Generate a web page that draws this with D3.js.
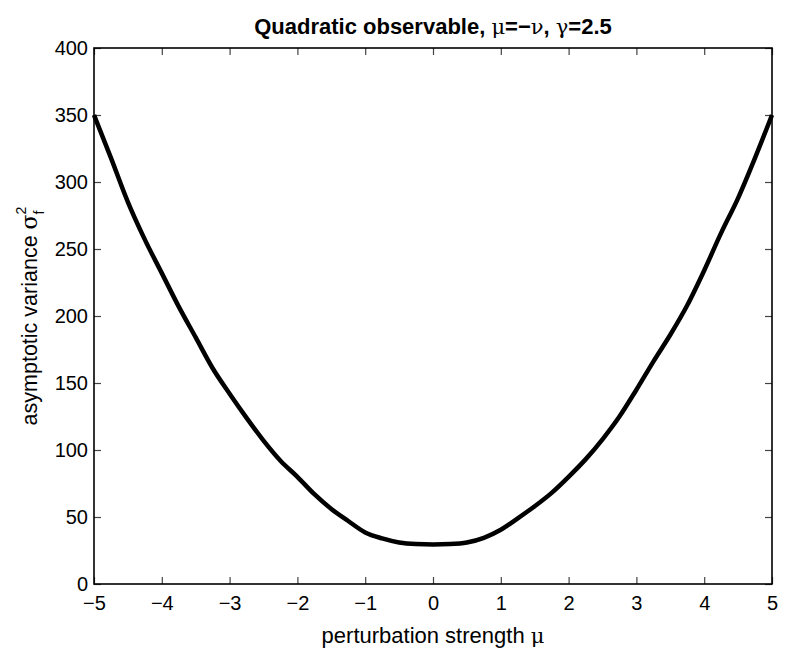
<!DOCTYPE html>
<html>
<head>
<meta charset="utf-8">
<script src="https://cdn.jsdelivr.net/npm/d3@7"></script>
<style>
  body { margin: 0; background: #fff; }
  svg text { font-family: "Liberation Sans", Arial, Helvetica, sans-serif; fill: #000; }
</style>
</head>
<body>
<div id="chart"></div>
<script>
// perturbation strength mu
const muValues = [
  -5.00, -4.75, -4.50, -4.25, -4.00, -3.75, -3.50, -3.25, -3.00, -2.75, -2.50,
  -2.25, -2.00, -1.75, -1.50, -1.25, -1.00, -0.75, -0.50, -0.25, 0.00,
  0.25, 0.50, 0.75, 1.00, 1.25, 1.50, 1.75, 2.00, 2.25, 2.50,
  2.75, 3.00, 3.25, 3.50, 3.75, 4.00, 4.25, 4.50, 4.75, 5.00
];
// asymptotic variance
const varianceValues = [
  350, 318, 285, 257, 232, 207, 184, 161, 142, 124, 107,
  92, 80, 67, 56, 47, 38.5, 34, 31, 29.8, 29.5,
  29.8, 31, 34.5, 40.5, 49, 58, 68, 80, 93, 108,
  125, 145, 166, 186, 208, 234, 262, 288, 318, 350
];
const xTicks = [-5, -4, -3, -2, -1, 0, 1, 2, 3, 4, 5];
const yTicks = [0, 50, 100, 150, 200, 250, 300, 350, 400];

const width = 800, height = 658;
const margin = {top: 48, right: 28, bottom: 74, left: 94};
const innerW = width - margin.left - margin.right;
const innerH = height - margin.top - margin.bottom;

const svg = d3.select('#chart').append('svg')
  .attr('width', width)
  .attr('height', height);

const g = svg.append('g')
  .attr('transform', `translate(${margin.left},${margin.top})`);

const x = d3.scaleLinear().domain([-5, 5]).range([0, innerW]);
const y = d3.scaleLinear().domain([0, 400]).range([innerH, 0]);

const fmt = d => d < 0 ? '\u2212' + Math.abs(d) : String(d);

// bottom and left axes with inward ticks
const xAxis = g.append('g')
  .attr('transform', `translate(0,${innerH})`)
  .call(d3.axisBottom(x).tickValues(xTicks).tickSizeInner(-7).tickSizeOuter(0).tickPadding(16).tickFormat(fmt));
const yAxis = g.append('g')
  .call(d3.axisLeft(y).tickValues(yTicks).tickSizeInner(-7).tickSizeOuter(0).tickPadding(6).tickFormat(fmt));
// top and right ticks, no labels
const xTop = g.append('g')
  .call(d3.axisTop(x).tickValues(xTicks).tickSizeInner(-7).tickSizeOuter(0).tickFormat(''));
const yRight = g.append('g')
  .attr('transform', `translate(${innerW},0)`)
  .call(d3.axisRight(y).tickValues(yTicks).tickSizeInner(-7).tickSizeOuter(0).tickFormat(''));

[xAxis, yAxis, xTop, yRight].forEach(a => {
  a.select('.domain').remove();
  a.selectAll('line').attr('stroke', '#444').attr('stroke-width', 1.2);
  a.selectAll('text').attr('font-size', 20).attr('font-family', '"Liberation Sans", Arial, sans-serif');
});
xAxis.selectAll('text').attr('dy', '0.5em');

// box
g.append('rect')
  .attr('x', 0).attr('y', 0)
  .attr('width', innerW).attr('height', innerH)
  .attr('fill', 'none')
  .attr('stroke', '#000')
  .attr('stroke-width', 1.6);

// curve
const data = muValues.map((m, i) => ({mu: m, v: varianceValues[i]}));
const line = d3.line()
  .x(d => x(d.mu))
  .y(d => y(d.v))
  .curve(d3.curveMonotoneX);

g.append('path')
  .datum(data)
  .attr('fill', 'none')
  .attr('stroke', '#000')
  .attr('stroke-width', 4.5)
  .attr('stroke-linejoin', 'round')
  .attr('d', line);

// title
const title = svg.append('text')
  .attr('x', margin.left + innerW / 2)
  .attr('y', 34)
  .attr('text-anchor', 'middle')
  .attr('font-size', 22)
  .attr('font-weight', 'bold');
title.append('tspan').text('Quadratic observable, ');
title.append('tspan').attr('font-weight', 'normal').attr('font-family', '"DejaVu Serif", serif').attr('font-size', 21).text('\u03bc');
title.append('tspan').text('=\u2212');
title.append('tspan').attr('font-weight', 'normal').attr('font-family', '"DejaVu Serif", serif').attr('font-size', 21).text('\u03bd');
title.append('tspan').text(', ');
title.append('tspan').attr('font-weight', 'normal').attr('font-family', '"DejaVu Serif", serif').attr('font-size', 21).text('\u03b3');
title.append('tspan').text('=2.5');

// x label
const xl = svg.append('text')
  .attr('x', margin.left + innerW / 2)
  .attr('y', 643)
  .attr('text-anchor', 'middle')
  .attr('font-size', 22)
  .attr('fill', '#222');
xl.append('tspan').text('perturbation strength ');
xl.append('tspan').attr('font-family', '"DejaVu Serif", serif').attr('font-size', 21).text('\u03bc');

// y label
const yl = svg.append('text')
  .attr('transform', `translate(37,${margin.top + innerH / 2}) rotate(-90)`)
  .attr('text-anchor', 'middle')
  .attr('font-size', 21.5)
  .attr('fill', '#222');
yl.append('tspan').text('asymptotic variance ');
yl.append('tspan').attr('font-family', '"DejaVu Serif", serif').attr('font-size', 22).text('\u03c3');
yl.append('tspan').attr('font-size', 14).attr('dy', -11).text('2');
yl.append('tspan').attr('font-size', 14).attr('dx', -8).attr('dy', 18).text('f');
</script>
</body>
</html>
